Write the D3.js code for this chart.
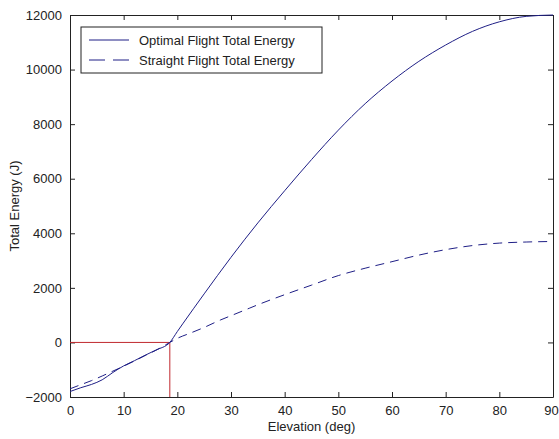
<!DOCTYPE html>
<html>
<head>
<meta charset="utf-8">
<script src="https://cdn.jsdelivr.net/npm/d3@7"></script>
<style>
  body { margin: 0; background: #fff; }
  text { font-family: "Liberation Sans", Arial, sans-serif; }
</style>
</head>
<body>
<div id="chart"></div>
<script>
// elevation (deg) and energies (J)
const optElev = [0, 2, 4, 6, 8, 10, 12, 14, 16, 18.6, 20, 21, 25, 30, 35, 40, 45, 50, 55, 60, 65, 70, 75, 80, 85, 90];
const optEnergy = [-1800, -1660, -1540, -1370, -1100, -860, -670, -470, -280, 0, 400, 680, 1780, 3120, 4380, 5560, 6700, 7780, 8750, 9580, 10300, 10900, 11400, 11750, 11950, 12000];

const strElev = [0, 2, 4, 6, 8, 10, 12, 14, 16, 18.6, 20, 22.4, 25, 28, 30, 33.5, 35, 40, 45, 50, 55, 60, 65, 70, 75, 80, 85, 90];
const strEnergy = [-1700, -1550, -1400, -1230, -1050, -870, -680, -480, -290, 0, 150, 340, 550, 820, 980, 1260, 1380, 1750, 2100, 2450, 2720, 2960, 3200, 3400, 3550, 3640, 3680, 3700];

// red marker lines at the crossing point
const crossElev = 18.6;

const xTicks = [0, 10, 20, 30, 40, 50, 60, 70, 80, 90];
const yTicks = [-2000, 0, 2000, 4000, 6000, 8000, 10000, 12000];

const legendLabels = ["Optimal Flight Total Energy", "Straight Flight Total Energy"];

const MARGIN = {LEFT: 70, RIGHT: 6, TOP: 15, BOTTOM: 42};
const W = 559, H = 439;
const WIDTH = W - MARGIN.LEFT - MARGIN.RIGHT;
const HEIGHT = H - MARGIN.TOP - MARGIN.BOTTOM;

const lineColor = "#1f1f86";
const redColor = "#c0282e";

const svg = d3.select("#chart").append("svg")
    .attr("width", W)
    .attr("height", H);

const g = svg.append("g")
    .attr("transform", `translate(${MARGIN.LEFT}, ${MARGIN.TOP})`);

const x = d3.scaleLinear().domain([0, 90]).range([0, WIDTH]);
const y = d3.scaleLinear().domain([-2000, 12000]).range([HEIGHT, 0]);

// axes (MATLAB style: inward ticks on all four sides)
const xAxisCall = d3.axisBottom(x).tickValues(xTicks).tickFormat(d3.format("d"))
    .tickSizeInner(-5).tickSizeOuter(0).tickPadding(9);
const yAxisCall = d3.axisLeft(y).tickValues(yTicks).tickFormat(d3.format("d"))
    .tickSizeInner(-5).tickSizeOuter(0).tickPadding(8);

const xAxis = g.append("g")
    .attr("transform", `translate(0, ${HEIGHT})`)
    .call(xAxisCall);
const yAxis = g.append("g").call(yAxisCall);
g.append("g")
    .call(d3.axisTop(x).tickValues(xTicks).tickSizeInner(-5).tickSizeOuter(0).tickFormat(""));
g.append("g")
    .attr("transform", `translate(${WIDTH}, 0)`)
    .call(d3.axisRight(y).tickValues(yTicks).tickSizeInner(-5).tickSizeOuter(0).tickFormat(""));

g.selectAll(".domain").attr("stroke", "#222");
g.selectAll(".tick line").attr("stroke", "#222");
g.selectAll(".tick text")
    .attr("font-size", 13)
    .attr("fill", "#222")
    .style("font-family", "'Liberation Sans', Arial, sans-serif");
// last x label sits on the window edge; nudge it in a little
xAxis.selectAll(".tick").filter(d => d === 90).select("text").attr("dx", -2);

// red reference lines
g.append("path")
    .attr("d", d3.line()([[x(0), y(0)], [x(crossElev), y(0)], [x(crossElev), y(-2000)]]))
    .attr("fill", "none")
    .attr("stroke", redColor)
    .attr("stroke-width", 1);

const line = d3.line()
    .x(d => x(d[0]))
    .y(d => y(d[1]))
    .curve(d3.curveMonotoneX);

g.append("path")
    .datum(optElev.map((e, i) => [e, optEnergy[i]]))
    .attr("d", line)
    .attr("fill", "none")
    .attr("stroke", lineColor)
    .attr("stroke-width", 1);

g.append("path")
    .datum(strElev.map((e, i) => [e, strEnergy[i]]))
    .attr("d", line)
    .attr("fill", "none")
    .attr("stroke", lineColor)
    .attr("stroke-width", 1)
    .attr("stroke-dasharray", "9,6");

// legend
const legend = g.append("g").attr("transform", "translate(11, 12)");
legend.append("rect")
    .attr("width", 241)
    .attr("height", 46)
    .attr("fill", "#fff")
    .attr("stroke", "#222");

const legendRow = legend.selectAll(".legendRow")
    .data(legendLabels)
    .enter().append("g")
    .attr("class", "legendRow")
    .attr("transform", (d, i) => `translate(0, ${13 + i * 20})`);

legendRow.append("line")
    .attr("x1", 8).attr("x2", 48)
    .attr("stroke", lineColor)
    .attr("stroke-width", 1)
    .attr("stroke-dasharray", (d, i) => i === 1 ? "16,8" : null);

legendRow.append("text")
    .attr("x", 58)
    .attr("y", 4.5)
    .attr("font-size", 13)
    .attr("fill", "#222")
    .text(d => d);

// axis titles
svg.append("text")
    .attr("x", MARGIN.LEFT + WIDTH / 2)
    .attr("y", 431)
    .attr("text-anchor", "middle")
    .attr("font-size", 13)
    .attr("fill", "#222")
    .text("Elevation (deg)");

svg.append("text")
    .attr("transform", `translate(19, ${MARGIN.TOP + HEIGHT / 2}) rotate(-90)`)
    .attr("text-anchor", "middle")
    .attr("font-size", 13)
    .attr("fill", "#222")
    .text("Total Energy (J)");
</script>
</body>
</html>
